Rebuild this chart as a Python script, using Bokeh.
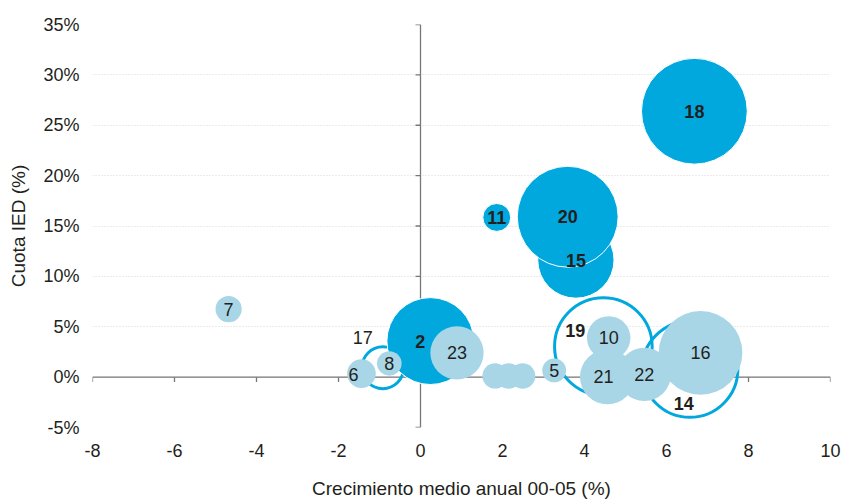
from bokeh.plotting import figure
from bokeh.models import Range1d, FixedTicker, PrintfTickFormatter, Span
from bokeh.embed import file_html
from bokeh.resources import INLINE
from bokeh.core.properties import value

# ---------------- data ----------------
x_ticks = [-8, -6, -4, -2, 0, 2, 4, 6, 8, 10]
y_ticks = [-5, 0, 5, 10, 15, 20, 25, 30, 35]

# dark filled bubbles
osc_lab = ["2", "11", "15", "20", "18"]
osc_x = [0.24, 1.86, 3.79, 3.59, 6.68]
osc_y = [3.58, 15.85, 11.62, 15.92, 26.39]
osc_r = [1.06, 0.34, 0.93, 1.23, 1.29]

# outlined (ring) bubbles
ani_lab = ["17", "19", "14"]
ani_x = [-0.92, 4.46, 6.57]
ani_y = [0.93, 3.04, 0.78]
ani_r = [0.51, 1.19, 1.17]

# light filled bubbles
cla_lab = ["7", "6", "8", "23", "", "", "", "5", "10", "21", "22", "16"]
cla_x = [-4.68, -1.44, -0.76, 0.89, 1.82, 2.15, 2.49, 3.26, 4.59, 4.56, 5.46, 6.83]
cla_y = [6.75, 0.35, 1.36, 2.41, 0.12, 0.12, 0.12, 0.66, 3.90, 0.02, 0.27, 2.41]
cla_r = [0.32, 0.35, 0.30, 0.65, 0.31, 0.31, 0.31, 0.29, 0.53, 0.67, 0.65, 1.02]

# label pixel offsets (style)
osc_dx = [-10, 0, 0, 0, 0]
osc_dy = [0, 0, 0, 0, 0]
ani_dx = [-20, -28, -6]
ani_dy = [-30, -16, 34]
cla_dx = [0, -8, 0, 0, 0, 0, 0, 0, 0, -4, 0, 0]
cla_dy = [0, 1, 0, 0, 0, 0, 0, 0, 0, 0, 0, 0]

DARK = "#00A8DE"
LIGHT = "#A8D6E7"
TXT = "#231F20"
FONT = "Liberation Sans"

p = figure(width=844, height=501, x_range=Range1d(-8, 10), y_range=Range1d(-5, 35),
           output_backend="svg", toolbar_location=None,
           min_border_left=92, min_border_right=14, min_border_top=24, min_border_bottom=73)
p.outline_line_color = None
p.xgrid.visible = False
p.ygrid.grid_line_color = "#d6d6d6"
p.ygrid.grid_line_dash = "1 2"
p.ygrid.grid_line_width = 1

for ax in (p.xaxis[0], p.yaxis[0]):
    ax.axis_line_color = None
    ax.major_tick_line_color = None
    ax.minor_tick_line_color = None
    ax.major_tick_out = 0
    ax.major_tick_in = 0
    ax.minor_tick_out = 0
    ax.minor_tick_in = 0
    ax.major_label_text_font = FONT
    ax.major_label_text_font_size = "18px"
    ax.major_label_text_color = TXT
    ax.axis_label_text_font = FONT
    ax.axis_label_text_font_size = "19px"
    ax.axis_label_text_font_style = "normal"
    ax.axis_label_text_color = TXT

p.xaxis.ticker = FixedTicker(ticks=x_ticks)
p.yaxis.ticker = FixedTicker(ticks=y_ticks)
p.xaxis.formatter = PrintfTickFormatter(format="%d")
p.yaxis.formatter = PrintfTickFormatter(format="%d%%")
p.xaxis.major_label_standoff = 16
p.yaxis.major_label_standoff = 13
p.xaxis.axis_label = "Crecimiento medio anual 00-05 (%)"
p.yaxis.axis_label = "Cuota IED (%)"
p.xaxis.axis_label_standoff = 18
p.yaxis.axis_label_standoff = 11

# axis lines crossing at zero
AX = "#777777"
p.add_layout(Span(location=0, dimension="width", line_color=AX, line_width=1.3, level="underlay"))
p.add_layout(Span(location=0, dimension="height", line_color=AX, line_width=1.3, level="underlay"))
xt_len = 5 * 40 / 404.0
yt_len = 5 * 18 / 738.0
p.segment(x0=x_ticks, y0=[0] * len(x_ticks), x1=x_ticks, y1=[-xt_len] * len(x_ticks),
          line_color=AX, line_width=1.3)
p.segment(x0=[0] * len(y_ticks), y0=y_ticks, x1=[-yt_len] * len(y_ticks), y1=y_ticks,
          line_color=AX, line_width=1.3)

# bubbles
p.circle(x=ani_x, y=ani_y, radius=ani_r, fill_color=None, line_color=DARK, line_width=3)
p.circle(x=osc_x, y=osc_y, radius=osc_r, fill_color=DARK, line_color="white", line_width=1)
p.circle(x=cla_x, y=cla_y, radius=cla_r, fill_color=LIGHT, line_color=None)

# labels
p.text(x=osc_x, y=osc_y, text=osc_lab, x_offset=osc_dx, y_offset=osc_dy,
       text_font=value(FONT), text_font_size="18px", text_font_style="bold",
       text_color=TXT, text_align="center", text_baseline="middle")
p.text(x=ani_x[:1], y=ani_y[:1], text=ani_lab[:1], x_offset=ani_dx[:1], y_offset=ani_dy[:1],
       text_font=value(FONT), text_font_size="18px", text_font_style="normal",
       text_color=TXT, text_align="center", text_baseline="middle")
p.text(x=ani_x[1:], y=ani_y[1:], text=ani_lab[1:], x_offset=ani_dx[1:], y_offset=ani_dy[1:],
       text_font=value(FONT), text_font_size="18px", text_font_style="bold",
       text_color=TXT, text_align="center", text_baseline="middle")
p.text(x=cla_x, y=cla_y, text=cla_lab, x_offset=cla_dx, y_offset=cla_dy,
       text_font=value(FONT), text_font_size="18px", text_font_style="normal",
       text_color=TXT, text_align="center", text_baseline="middle")

open("out.html", "w").write(file_html(p, INLINE))
